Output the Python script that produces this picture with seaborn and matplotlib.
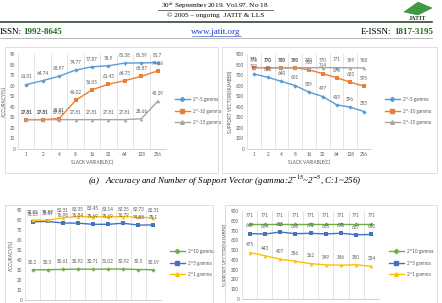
import matplotlib
matplotlib.use("Agg")
import matplotlib.pyplot as plt
from matplotlib.patches import Rectangle, Polygon
from matplotlib.lines import Line2D
import numpy as np
import seaborn as sns

# slack variable C (x categories)
slack = ["1", "2", "4", "8", "16", "32", "64", "128", "256"]

# (a) gamma 2^-5 .. 2^-15
acc_g5 = [61.01, 64.74, 68.97, 74.77, 77.87, 78.9, 81.38, 81.59, 81.7]
acc_g10 = [27.81, 27.81, 28.81, 46.02, 56.05, 61.43, 64.73, 68.87, 74.06]
acc_g15 = [27.81, 27.81, 27.81, 27.81, 27.81, 27.81, 27.81, 28.66, 45.29]
sv_g5 = [710, 680, 640, 601, 539, 497, 419, 396, 355]
sv_g10 = [771, 770, 770, 769, 750, 714, 676, 633, 595]
sv_g15 = [770, 770, 769, 770, 770, 770, 771, 769, 768]
top_names = ["2^-5 gamma", "2^-10 gamma", "2^-15 gamma"]

# (b) gamma 2^10, 2^5, 2^1
acc_p10 = [30.2, 30.3, 30.61, 30.92, 30.71, 31.02, 30.92, 30.5, 30.19]
acc_p5 = [78.15, 78.59, 76.98, 76.84, 75.69, 75.69, 76.79, 74.88, 75.1]
acc_p1 = [79.85, 79.87, 82.31, 83.35, 83.45, 83.14, 83.35, 82.73, 82.31]
sv_p10 = [771, 771, 771, 771, 771, 771, 771, 771, 771]
sv_p5 = [669, 664, 685, 668, 672, 665, 673, 657, 660]
sv_p1 = [475, 443, 407, 386, 362, 349, 346, 350, 334]
bot_names = ["2^10 gamma", "2^5 gamma", "2^1 gamma"]

top_colors = ["#5B9BD5", "#ED7D31", "#A5A5A5"]
bot_colors = ["#70AD47", "#4472C4", "#FFC000"]
markers = ["D", "s", "^"]
msizes = [2.2, 3.2, 2.6]

W, H = 442, 303
TXT = "#595959"
SMALL = 3.3
plt.rcParams["font.family"] = ["Lato", "DejaVu Sans"]
plt.rcParams["mathtext.fontset"] = "stix"

fig = plt.figure(figsize=(W / 100, H / 100), dpi=100)
fig.patch.set_facecolor("white")


def px_axes(x0, y0, x1, y1):
    return fig.add_axes([x0 / W, 1 - y1 / H, (x1 - x0) / W, (y1 - y0) / H])


def px_box(x0, y0, x1, y1):
    fig.add_artist(Rectangle((x0 / W, 1 - y1 / H), (x1 - x0) / W, (y1 - y0) / H,
                             transform=fig.transFigure, fill=False,
                             edgecolor="#D9D9D9", lw=0.6))


def chart(ax, series, names, colors, ymax, ystep, ylabel, leg_xy, xlabel=True):
    pos = np.arange(len(slack))
    handles = []
    for vals, c, m, ms in zip(series, colors, markers, msizes):
        sns.lineplot(x=pos, y=vals, color=c, marker=m, markersize=ms,
                     markeredgecolor=c, markeredgewidth=0, linewidth=1.0, ax=ax)
        for i, v in zip(pos, vals):
            ax.annotate(f"{v:g}", (i, v), xytext=(0, 5.5), textcoords="offset points",
                        ha="center", va="center", fontsize=SMALL, color=TXT)
        handles.append(Line2D([], [], color=c, marker=m, markersize=ms, lw=1.0))
    ax.set_xlim(-0.5, len(slack) - 0.5)
    ax.set_ylim(0, ymax)
    ax.set_xticks(pos)
    ax.set_xticklabels(slack if xlabel else [])
    ax.set_yticks(np.arange(0, ymax + 1, ystep))
    ax.set_xticks(np.arange(-0.5, len(slack), 1), minor=True)
    ax.grid(which="minor", axis="x", color="#D9D9D9", lw=0.5)
    ax.grid(which="major", axis="both", visible=False)
    ax.tick_params(which="both", length=0, labelsize=SMALL, labelcolor=TXT, pad=2)
    for s in ["top", "right", "left"]:
        ax.spines[s].set_visible(False)
    ax.spines["bottom"].set_color("#BFBFBF")
    ax.spines["bottom"].set_linewidth(0.5)
    ax.set_ylabel(ylabel, fontsize=SMALL, color=TXT, labelpad=2)
    if xlabel:
        ax.set_xlabel("SLACK VARIABLE(C)", fontsize=SMALL, color=TXT, labelpad=2)
    else:
        ax.set_xlabel("")
    ax.legend(handles, names, loc="center left", bbox_to_anchor=leg_xy,
              bbox_transform=fig.transFigure, frameon=False, fontsize=SMALL,
              handlelength=3.2, labelspacing=1.4, labelcolor=TXT)


# ---- page header ----
serif = "Liberation Serif"
fig.text(215 / W, 1 - 6 / H, "30$^{th}$ September 2019. Vol.97. No 18", ha="center",
         va="center", fontsize=5.2, family=serif)
fig.add_artist(Line2D([158 / W, 273 / W], [1 - 9.5 / H] * 2, color="black", lw=0.4))
fig.text(216 / W, 1 - 15.5 / H, "© 2005 – ongoing  JATIT & LLS", ha="center",
         va="center", fontsize=5.2, family=serif)
fig.add_artist(Line2D([0, 432 / W], [1 - 21.5 / H] * 2, color="#1E3A1E", lw=1.1))
fig.add_artist(Line2D([0, 432 / W], [1 - 38 / H] * 2, color="#9A9A9A", lw=0.5))
fig.text(0, 1 - 32 / H, "ISSN:", ha="left", va="center", fontsize=6.5, family=serif)
fig.text(23 / W, 1 - 32 / H, "1992-8645", ha="left", va="center", fontsize=6.5,
         family=serif, color="#1E6B1E", weight="bold")
fig.text(216 / W, 1 - 32 / H, "www.jatit.org", ha="center", va="center", fontsize=6.5,
         family=serif, color="#1F3FBF")
fig.add_artist(Line2D([192 / W, 241 / W], [1 - 35.5 / H] * 2, color="#1F3FBF", lw=0.4))
fig.text(361 / W, 1 - 32 / H, "E-ISSN:", ha="left", va="center", fontsize=6.5, family=serif)
fig.text(394 / W, 1 - 32 / H, "1817-3195", ha="left", va="center", fontsize=6.5,
         family=serif, color="#1E6B1E", weight="bold")
# logo
fig.add_artist(Polygon([[404 / W, 1 - 12 / H], [418 / W, 1 - 2 / H], [432 / W, 1 - 8 / H],
                        [418 / W, 1 - 15 / H]], closed=True, transform=fig.transFigure,
                       facecolor="#3E9B3E", edgecolor="#2C6E2C", lw=0.3))
fig.text(418 / W, 1 - 18.5 / H, "JATIT", ha="center", va="center", fontsize=4.5,
         weight="bold", color="#1E3A1E", family=serif)

# ---- (a) top charts ----
px_box(5, 47, 218, 173)
px_box(222, 47, 437, 173)
ax1 = px_axes(18, 54, 166, 149)
chart(ax1, [acc_g5, acc_g10, acc_g15], top_names, top_colors, 90, 10,
      "ACCURACY(%)", (171 / W, 1 - 111 / H))
ax2 = px_axes(247, 54, 371, 149)
chart(ax2, [sv_g5, sv_g10, sv_g15], top_names, top_colors, 900, 100,
      "SUPPORT VECTOR(NUMBER)", (381 / W, 1 - 111 / H))

fig.text(88 / W, 1 - 181 / H,
         "(a)   Accuracy and Number of Support Vector (gamma:2$^{-15}$~2$^{-5}$, C:1~256)",
         ha="left", va="center", fontsize=6.5, family=serif, style="italic")

# ---- (b) bottom charts (cut by the page edge) ----
px_box(5, 205, 213, 320)
px_box(225, 205, 437, 320)
ax3 = px_axes(25, 210, 161, 300)
chart(ax3, [acc_p10, acc_p5, acc_p1], bot_names, bot_colors, 90, 10,
      "ACCURACY(%)", (166 / W, 1 - 263 / H), xlabel=False)
ax4 = px_axes(242, 211, 379, 299)
chart(ax4, [sv_p10, sv_p5, sv_p1], bot_names, bot_colors, 900, 100,
      "SUPPORT VECTOR(NUMBER)", (385 / W, 1 - 263 / H), xlabel=False)

fig.savefig("out.png", dpi=100, facecolor="white")
